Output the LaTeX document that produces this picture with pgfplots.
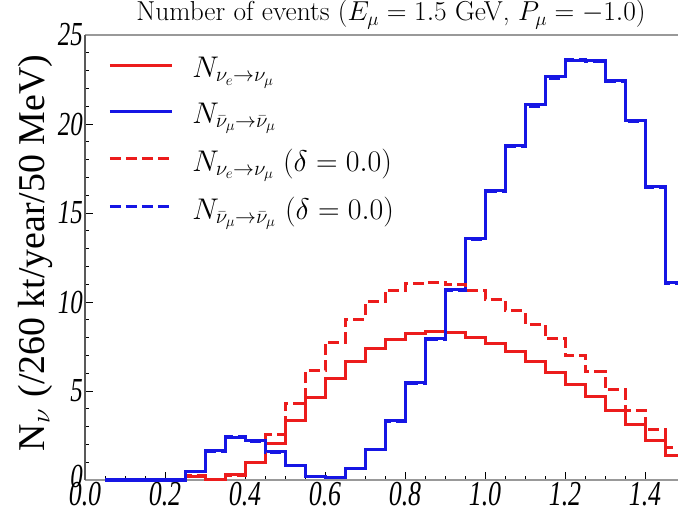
\RequirePackage{fix-cm}
\documentclass[border=0pt]{standalone}
\usepackage{pgfplots}
\pgfplotsset{compat=1.18}
\usepackage{graphicx}
\usepackage{fontspec}
\newfontfamily\tms{Liberation Serif}
\definecolor{nred}{RGB}{236,28,28}
\definecolor{nblue}{RGB}{22,22,228}
% tick numbers: italic Times, slightly stretched vertically
\newcommand\tl[1]{\scalebox{1}[1.35]{\tms\itshape #1}}

\begin{document}
\begin{tikzpicture}
\begin{axis}[
  scale only axis, width=593bp, height=445bp,
  xmin=0, xmax=1.4825, ymin=0, ymax=25,
  axis x line*=box, axis y line*=left,
  x axis line style={draw=black!40, line width=1.2bp},
  y axis line style={draw=black!65, line width=1.2bp},
  xtick={0,0.2,0.4,0.6,0.8,1.0,1.2,1.4},
  xticklabels={\tl{0.0},\tl{0.2},\tl{0.4},\tl{0.6},\tl{0.8},\tl{1.0},\tl{1.2},\tl{1.4}},
  ytick={0,5,10,15,20,25},
  yticklabels={\raisebox{7bp}{\tl{0}},\tl{5},\tl{10},\tl{15},\tl{20},\tl{25}},
  minor x tick num=3, minor y tick num=4,
  xtick pos=bottom, ytick pos=left,
  tick align=inside,
  major tick length=8bp, minor tick length=4bp,
  every tick/.style={black, line width=0.9bp},
  xticklabel style={font=\fontsize{26}{26}\selectfont, inner sep=1bp, yshift=-1bp},
  yticklabel style={font=\fontsize{25}{25}\selectfont, inner sep=2bp},
  clip=false,
  title={Number of events ($E_\mu = 1.5$ GeV,\ $P_\mu = -1.0$)},
  title style={at={(rel axis cs:0.516,1)}, anchor=south, inner sep=0pt, yshift=0bp,
               font=\fontsize{27.5}{27.5}\selectfont},
  ylabel={{\tms N}$_{\nu}$ {\tms (/260 kt/year/50 MeV)}},
  every axis y label/.style={at={(rel axis cs:-0.0843,0.51)}, rotate=90, anchor=center,
               font=\fontsize{38}{38}\selectfont},
  legend style={at={(rel axis cs:0.034,0.96)}, anchor=north west, draw=none, fill=none,
               font=\fontsize{30}{30}\selectfont, row sep=20bp,
               /tikz/every odd column/.append style={column sep=17bp}},
  legend cell align=left,
  legend image code/.code={\draw[#1] (0bp,2bp) -- (62bp,2bp);},
]
\coordinate (O) at (rel axis cs:0,0);

% nu_e -> nu_mu, CP phase as fitted
\addplot[const plot, nred, line width=3bp] coordinates {
 (0.05,0) (0.10,0) (0.15,0) (0.20,0) (0.25,0.20) (0.30,0.05) (0.35,0.30) (0.40,1.00)
 (0.45,2.07) (0.50,3.33) (0.55,4.63) (0.60,5.71) (0.65,6.65) (0.70,7.40) (0.75,7.90)
 (0.80,8.24) (0.85,8.33) (0.90,8.27) (0.95,8.01) (1.00,7.68) (1.05,7.21) (1.10,6.65)
 (1.15,6.05) (1.20,5.39) (1.25,4.68) (1.30,3.89) (1.35,3.09) (1.40,2.21) (1.45,1.38)
 (1.50,1.38)};
\addlegendentry{$N_{\nu_e\to\nu_\mu}$}

% anti-nu_mu disappearance
\addplot[const plot, nblue, line width=3bp] coordinates {
 (0.05,0) (0.10,0) (0.15,0) (0.20,0) (0.25,0.50) (0.30,1.65) (0.35,2.38) (0.40,2.20)
 (0.45,1.60) (0.50,0.79) (0.55,0.19) (0.60,0.12) (0.65,0.65) (0.70,1.74) (0.75,3.37)
 (0.80,5.47) (0.85,7.96) (0.90,10.71) (0.95,13.58) (1.00,16.29) (1.05,18.82) (1.10,21.07)
 (1.15,22.66) (1.20,23.56) (1.25,23.56) (1.30,22.47) (1.35,20.20) (1.40,16.50) (1.45,11.10)
 (1.50,11.10)};
\addlegendentry{$N_{\bar\nu_\mu\to\bar\nu_\mu}$}

% nu_e -> nu_mu with delta = 0
\addplot[const plot, nred, line width=3bp, dash pattern=on 11bp off 5bp] coordinates {
 (0.05,0) (0.10,0) (0.15,0) (0.20,0) (0.25,0.25) (0.30,0.05) (0.35,0.25) (0.40,1.00)
 (0.45,2.53) (0.50,4.31) (0.55,6.14) (0.60,7.74) (0.65,9.03) (0.70,10.02) (0.75,10.67)
 (0.80,11.05) (0.85,11.12) (0.90,10.96) (0.95,10.64) (1.00,10.15) (1.05,9.51) (1.10,8.76)
 (1.15,7.94) (1.20,7.02) (1.25,6.07) (1.30,5.06) (1.35,3.93) (1.40,2.81) (1.45,1.80)
 (1.50,1.80)};
\addlegendentry{$N_{\nu_e\to\nu_\mu}\ (\delta=0.0)$}

% anti-nu_mu disappearance with delta = 0
\addplot[const plot, nblue, line width=3bp, dash pattern=on 11bp off 5bp] coordinates {
 (0.05,0) (0.10,0) (0.15,0) (0.20,0) (0.25,0.48) (0.30,1.60) (0.35,2.42) (0.40,2.18)
 (0.45,1.55) (0.50,0.80) (0.55,0.20) (0.60,0.12) (0.65,0.62) (0.70,1.70) (0.75,3.30)
 (0.80,5.40) (0.85,7.90) (0.90,10.65) (0.95,13.50) (1.00,16.22) (1.05,18.75) (1.10,21.00)
 (1.15,22.58) (1.20,23.62) (1.25,23.50) (1.30,22.40) (1.35,20.12) (1.40,16.45) (1.45,11.05)
 (1.50,11.05)};
\addlegendentry{$N_{\bar\nu_\mu\to\bar\nu_\mu}\ (\delta=0.0)$}
\end{axis}
\pgfresetboundingbox
\path[use as bounding box] (O) ++(-85bp,-41bp) rectangle ++(678bp,521bp);
\end{tikzpicture}
\end{document}
